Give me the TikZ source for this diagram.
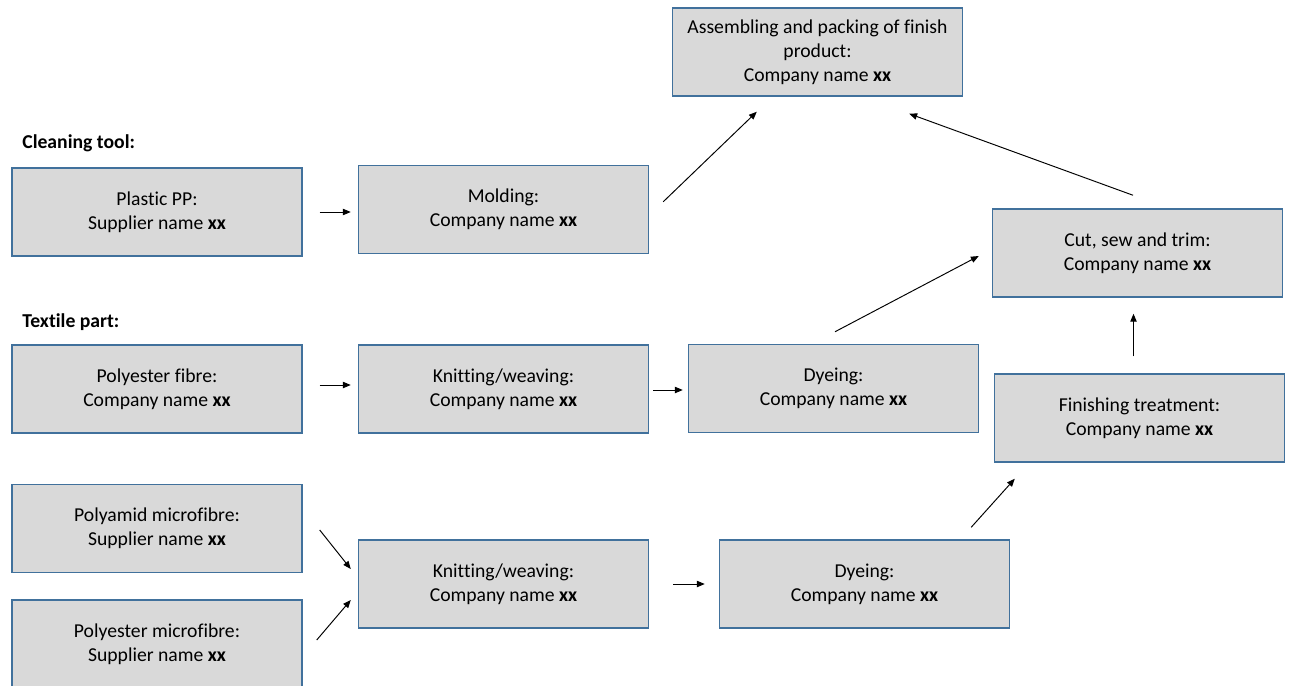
\documentclass[tikz,border=0pt]{standalone}
\usepackage{fontspec}
\setmainfont{Carlito}[Ligatures=NoCommon]
\usepackage{xcolor}
\usepackage{tikz}
\usetikzlibrary{arrows.meta, calc}

\definecolor{boxfill}{HTML}{D9D9D9}
\definecolor{boxline}{HTML}{41719C}

\begin{document}
\begin{tikzpicture}[x=0.02cm, y=-0.02cm,
        every node/.style={font=\fontsize{11.2}{13.7}\selectfont},
        box/.style={rectangle, draw=boxline, fill=boxfill, line width=0.85pt,
        minimum width=5.8cm, minimum height=1.76cm, align=center, inner sep=0pt},
        heading/.style={anchor=west, inner sep=0pt, font=\fontsize{11.2}{13.7}\selectfont\bfseries},
        arr/.style={-{Triangle[length=4.5pt, width=3.6pt]}, line width=0.55pt}]
        \useasboundingbox (0,0) rectangle (1291,686);

        \node[box] (assemble) at (817.5,52) {Assembling and packing of finish\\product:\\Company name \textbf{xx}};

        \node[heading] (cleaning) at (22,143) {Cleaning tool:};
        \node[box] (plastic) at (157,212) {Plastic PP:\\Supplier name \textbf{xx}};
        \node[box] (molding) at (503.5,209.5) {Molding:\\Company name \textbf{xx}};
        \node[box] (cut) at (1137.5,253) {Cut, sew and trim:\\Company name \textbf{xx}};

        \node[heading] (textile) at (22,322) {Textile part:};
        \node[box] (pfibre) at (157,389) {Polyester fibre:\\Company name \textbf{xx}};
        \node[box] (knitA) at (503.5,389) {Knitting/weaving:\\Company name \textbf{xx}};
        \node[box] (dyeA) at (833.5,388.5) {Dyeing:\\Company name \textbf{xx}};
        \node[box] (finish) at (1139.5,418) {Finishing treatment:\\Company name \textbf{xx}};

        \node[box] (pamid) at (157,528.5) {Polyamid microfibre:\\Supplier name \textbf{xx}};
        \node[box] (knitB) at (503.5,584) {Knitting/weaving:\\Company name \textbf{xx}};
        \node[box] (dyeB) at (864.5,584) {Dyeing:\\Company name \textbf{xx}};
        \node[box] (pmicro) at (157,644) {Polyester microfibre:\\Supplier name \textbf{xx}};

        % cleaning tool
        \draw[arr] ($(plastic.east)+(17,0)$) -- ($(plastic.east -| molding.west)+(-7,0)$);
        \draw[arr] ($(molding.north east)+(14,37)$) -- ($(assemble.south west)+(85,15)$);
        \draw[arr] ($(cut.north)+(-4.5,-13)$) -- ($(assemble.south east)+(-54,17)$);

        % textile part
        \draw[arr] ($(pfibre.east)+(17,-4)$) -- ($(pfibre.east -| knitA.west)+(-7,-4)$);
        \draw[arr] ($(knitA.east)+(4,1)$) -- ($(knitA.east -| dyeA.west)+(-5,1)$);
        \draw[arr] ($(dyeA.north)+(1.5,-12)$) -- ($(cut.west)+(-13,3)$);
        \draw[arr] ($(finish.north)+(-6,-17)$) -- ($(finish.north |- cut.south)+(-6,16)$);

        \draw[arr] ($(pamid.east)+(17,1.5)$) -- ($(knitB.west)+(-7,-15)$);
        \draw[arr] ($(pmicro.east)+(14,-4)$) -- ($(knitB.west)+(-7,16)$);
        \draw[arr] ($(knitB.east)+(24,0)$) -- ($(dyeB.west)+(-14,0)$);
        \draw[arr] ($(dyeB.north east)+(-39,-12)$) -- ($(finish.south west)+(21,16)$);
    \end{tikzpicture}
\end{document}
